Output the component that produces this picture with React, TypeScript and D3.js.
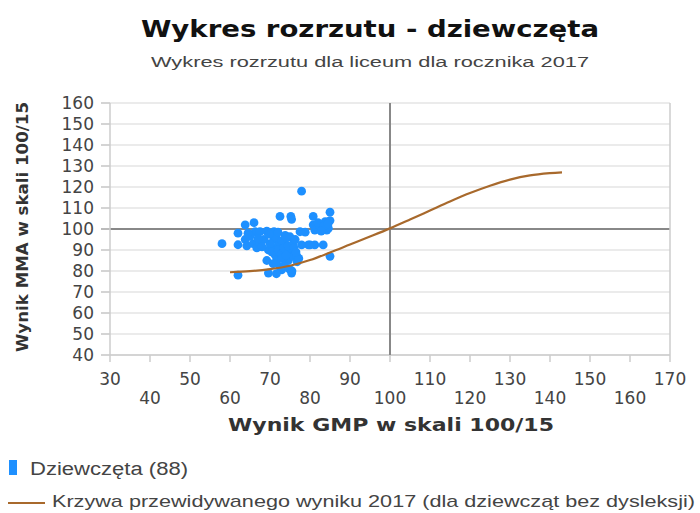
import * as d3 from "d3";

const W = 700;
const H = 513;

const xTicks = [30, 40, 50, 60, 70, 80, 90, 100, 110, 120, 130, 140, 150, 160, 170];
const yTicks = [40, 50, 60, 70, 80, 90, 100, 110, 120, 130, 140, 150, 160];

// GMP (x), MMA (y) for each girl
const gmp = [
  58, 62, 62, 62, 63.8, 63.8, 64.2, 66, 66.3, 65.8, 66.7, 67.5, 67.5, 69.2, 69.6, 69.2, 69.6, 71, 71, 70.6,
  71.3, 71.7, 72.5, 72.1, 72.5, 72.9, 73.8, 73.8, 74.2, 74.6, 75, 75.2, 75.4, 75.4, 75.4, 75.8, 76.7, 76.8, 77.5, 77.9,
  77.9, 79.6, 80.8, 80.8, 81.2, 81.2, 82.5, 83.3, 83.8, 84.2, 85, 85, 85, 84.6, 70, 70.5, 71.5, 72, 72.8, 73,
  73.5, 73, 74, 74.5, 74, 75.8, 76, 76.3, 72, 70.8, 73.5, 74.8, 75.5, 68.5, 68, 67, 65, 64.5, 78.8, 82,
  83.5, 84.5, 82.8, 80, 77.2, 71.6, 69.8, 76.5,
];
const mma = [
  93, 98, 92.5, 78, 102, 95, 92, 103, 98.7, 93, 91, 93, 98.7, 99, 90, 85, 79, 98.7, 95, 91,
  87.6, 85, 106, 92.4, 82, 80.5, 97, 93, 89, 85, 96.3, 106, 104.6, 90, 79, 87, 87, 84.4, 98.7, 118,
  92.4, 92.4, 106, 102, 99.5, 92.4, 101, 92.4, 103.5, 99.5, 108, 104, 87, 100.3, 93, 89, 96, 90, 88, 94.5,
  91, 86, 96, 92, 87.5, 93, 91, 95, 98.5, 83.5, 82.5, 81, 80, 95, 91.5, 95.5, 96.5, 98, 98.5, 103,
  101.5, 102.5, 99, 92.4, 86, 78.7, 97.5, 89,
];

// predicted-score curve
const curveX = [60, 65, 70, 75, 80, 85, 90, 95, 100, 105, 110, 115, 120, 125, 130, 135, 140, 143];
const curveY = [79.4, 79.9, 80.9, 82.5, 85.2, 88.8, 92.6, 96.4, 100.3, 104.5, 108.8, 113.1, 117.1, 120.6, 123.5, 125.5, 126.6, 127];

const margin = { left: 110, right: 30, top: 103, bottom: 158 };
const sans = "Liberation Sans, Arial, sans-serif";

export default function App() {
  const x = d3.scaleLinear().domain([30, 170]).range([margin.left, W - margin.right]);
  const y = d3.scaleLinear().domain([40, 160]).range([H - margin.bottom, margin.top]);

  const line = d3
    .line<number>()
    .x((d) => x(d))
    .y((_, i) => y(curveY[i]))
    .curve(d3.curveCatmullRom.alpha(0.5));

  const x0 = x(30);
  const x1 = x(170);
  const yb = y(40);
  const yt = y(160);

  return (
    <svg
      width={W}
      height={H}
      style={{ position: "absolute", left: 0, top: 0, background: "#fff" }}
      fontFamily="DejaVu Sans, Verdana, sans-serif"
    >
      <text x={370} y={37} textAnchor="middle" fontSize={23} fontWeight="bold" fill="#111"
        textLength={458} lengthAdjust="spacingAndGlyphs">
        Wykres rozrzutu - dziewczęta
      </text>
      <text x={370} y={67} textAnchor="middle" fontSize={15.5} fill="#444" fontFamily={sans}
        textLength={438} lengthAdjust="spacingAndGlyphs">
        Wykres rozrzutu dla liceum dla rocznika 2017
      </text>

      {/* horizontal grid + y ticks */}
      {yTicks.map((t) => (
        <g key={t}>
          <line
            x1={x0 - 9}
            x2={x1}
            y1={y(t)}
            y2={y(t)}
            stroke={t === 100 ? "#888" : "#e4e4e4"}
            strokeWidth={t === 100 ? 2 : 1.5}
          />
          <line x1={x0 - 9} x2={x0} y1={y(t)} y2={y(t)} stroke="#ccc" strokeWidth={1.5} />
          <text x={94} y={y(t) + 6} textAnchor="end" fontSize={17} fill="#444">
            {t}
          </text>
        </g>
      ))}

      {/* plot frame */}
      <line x1={x0} x2={x0} y1={yt} y2={yb} stroke="#ccc" strokeWidth={1.5} />
      <line x1={x1} x2={x1} y1={yt} y2={yb} stroke="#ccc" strokeWidth={1.5} />
      <line x1={x0} x2={x1} y1={yb} y2={yb} stroke="#ccc" strokeWidth={1.5} />
      <line x1={x(100)} x2={x(100)} y1={yt} y2={yb} stroke="#888" strokeWidth={2} />

      {/* x ticks, staggered labels */}
      {xTicks.map((t, i) => (
        <g key={t}>
          <line x1={x(t)} x2={x(t)} y1={yb} y2={yb + 7} stroke="#ccc" strokeWidth={1.5} />
          <text x={x(t)} y={i % 2 === 0 ? yb + 30 : yb + 49} textAnchor="middle" fontSize={17} fill="#444">
            {t}
          </text>
        </g>
      ))}

      {/* points */}
      {gmp.map((g, i) => (
        <circle key={i} cx={x(g)} cy={y(mma[i])} r={4.4} fill="#1e90ff" />
      ))}

      <path d={line(curveX) || ""} fill="none" stroke="#a8692c" strokeWidth={2.2} />

      {/* axis titles */}
      <text
        transform={`translate(28, ${(yt + yb) / 2 - 2}) rotate(-90)`}
        textAnchor="middle"
        fontSize={16}
        fontWeight="bold"
        fill="#333"
        textLength={250}
        lengthAdjust="spacingAndGlyphs"
      >
        Wynik MMA w skali 100/15
      </text>
      <text x={391} y={431} textAnchor="middle" fontSize={17} fontWeight="bold" fill="#333"
        textLength={326} lengthAdjust="spacingAndGlyphs">
        Wynik GMP w skali 100/15
      </text>

      {/* legend */}
      <rect x={9} y={460} width={8} height={15} fill="#1e90ff" />
      <text x={30} y={475} fontSize={18} fill="#444" fontFamily={sans}
        textLength={158} lengthAdjust="spacingAndGlyphs">
        Dziewczęta (88)
      </text>
      <line x1={8} x2={45} y1={503} y2={503} stroke="#a8692c" strokeWidth={2} />
      <text x={52} y={507} fontSize={17} fill="#444" fontFamily={sans}
        textLength={643} lengthAdjust="spacingAndGlyphs">
        Krzywa przewidywanego wyniku 2017 (dla dziewcząt bez dysleksji)
      </text>
    </svg>
  );
}
